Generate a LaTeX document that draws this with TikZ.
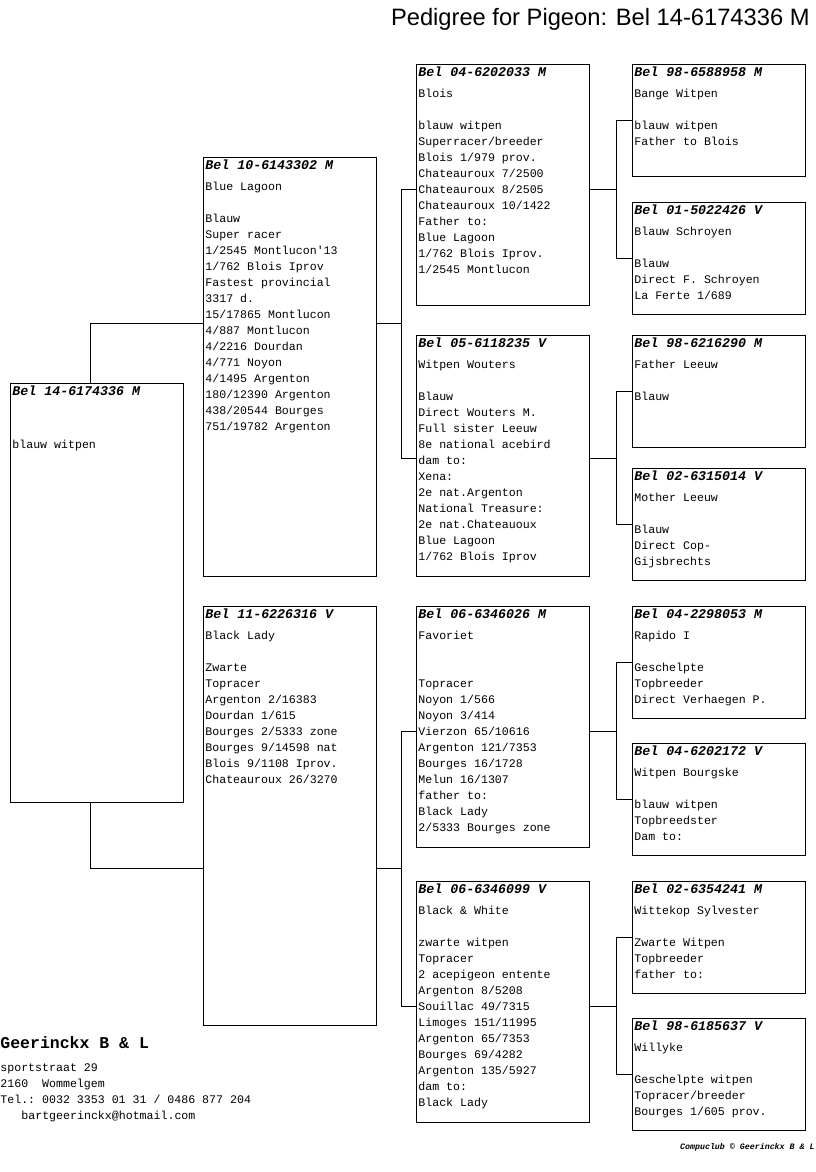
\documentclass[tikz,border=0pt]{standalone}
\usepackage{fontspec}
\setmainfont{Liberation Sans}
\setmonofont{Liberation Mono}
\usetikzlibrary{calc}

% ring number line on top of each card
\newcommand{\ringno}[1]{{\fontsize{13.3}{16}\selectfont\bfseries\itshape #1}\rule{0pt}{12.5pt}}
% card text: height, ring number, lines
\newcommand{\cardtext}[3]{\parbox[t][#1][t]{173pt}{\ttfamily\fontsize{11.6}{16}\selectfont
  \raggedright\leftskip=2pt \ringno{#2}\\[4.5pt]#3}}

\begin{document}
\begin{tikzpicture}[x=1pt, y=-1pt, line width=0.8pt,
  card/.style={draw, inner sep=0pt, anchor=north west},
  small/.style={font=\ttfamily\fontsize{11.6}{16}\selectfont}]
\useasboundingbox (0,0) rectangle (816,1172);

\node[anchor=base east, inner sep=0pt, font=\fontsize{23.7}{28}\selectfont] (title) at (810,26)
  {Pedigree for Pigeon: Bel 14-6174336 M};

% generation 1 and 2
\node[card] (subj) at (10,383) {\cardtext{419pt}{Bel 14-6174336 M}{\mbox{}\\\mbox{}\\blauw witpen}};
\node[card] (sire) at (203,157) {\cardtext{419pt}{Bel 10-6143302 M}{Blue Lagoon\\\mbox{}\\Blauw\\Super racer\\1/2545 Montlucon'13\\1/762 Blois Iprov\\Fastest provincial\\3317 d.\\15/17865 Montlucon\\4/887 Montlucon\\4/2216 Dourdan\\4/771 Noyon\\4/1495 Argenton\\180/12390 Argenton\\438/20544 Bourges\\751/19782 Argenton}};
\node[card] (dam) at (203,606) {\cardtext{419pt}{Bel 11-6226316 V}{Black Lady\\\mbox{}\\Zwarte\\Topracer\\Argenton 2/16383\\Dourdan 1/615\\Bourges 2/5333 zone\\Bourges 9/14598 nat\\Blois 9/1108 Iprov.\\Chateauroux 26/3270}};

% generation 3
\node[card] (blois) at (416,64) {\cardtext{241pt}{Bel 04-6202033 M}{Blois\\\mbox{}\\blauw witpen\\Superracer/breeder\\Blois 1/979 prov.\\Chateauroux 7/2500\\Chateauroux 8/2505\\Chateauroux 10/1422\\Father to:\\Blue Lagoon\\1/762 Blois Iprov.\\1/2545 Montlucon}};
\node[card] (wouters) at (416,335) {\cardtext{241pt}{Bel 05-6118235 V}{Witpen Wouters\\\mbox{}\\Blauw\\Direct Wouters M.\\Full sister Leeuw\\8e national acebird\\dam to:\\Xena:\\2e nat.Argenton\\National Treasure:\\2e nat.Chateauoux\\Blue Lagoon\\1/762 Blois Iprov}};
\node[card] (favoriet) at (416,606) {\cardtext{241pt}{Bel 06-6346026 M}{Favoriet\\\mbox{}\\\mbox{}\\Topracer\\Noyon 1/566\\Noyon 3/414\\Vierzon 65/10616\\Argenton 121/7353\\Bourges 16/1728\\Melun 16/1307\\father to:\\Black Lady\\2/5333 Bourges zone}};
\node[card] (blackwhite) at (416,881) {\cardtext{241pt}{Bel 06-6346099 V}{Black \& White\\\mbox{}\\zwarte witpen\\Topracer\\2 acepigeon entente\\Argenton 8/5208\\Souillac 49/7315\\Limoges 151/11995\\Argenton 65/7353\\Bourges 69/4282\\Argenton 135/5927\\dam to:\\Black Lady}};

% generation 4
\node[card] (bange) at (632,64) {\cardtext{112pt}{Bel 98-6588958 M}{Bange Witpen\\\mbox{}\\blauw witpen\\Father to Blois}};
\node[card] (schroyen) at (632,202) {\cardtext{112pt}{Bel 01-5022426 V}{Blauw Schroyen\\\mbox{}\\Blauw\\Direct F. Schroyen\\La Ferte 1/689}};
\node[card] (fleeuw) at (632,335) {\cardtext{112pt}{Bel 98-6216290 M}{Father Leeuw\\\mbox{}\\Blauw}};
\node[card] (mleeuw) at (632,468) {\cardtext{112pt}{Bel 02-6315014 V}{Mother Leeuw\\\mbox{}\\Blauw\\Direct Cop-\\Gijsbrechts}};
\node[card] (rapido) at (632,606) {\cardtext{112pt}{Bel 04-2298053 M}{Rapido I\\\mbox{}\\Geschelpte\\Topbreeder\\Direct Verhaegen P.}};
\node[card] (bourgske) at (632,743) {\cardtext{112pt}{Bel 04-6202172 V}{Witpen Bourgske\\\mbox{}\\blauw witpen\\Topbreedster\\Dam to:}};
\node[card] (wittekop) at (632,881) {\cardtext{112pt}{Bel 02-6354241 M}{Wittekop Sylvester\\\mbox{}\\Zwarte Witpen\\Topbreeder\\father to:}};
\node[card] (willyke) at (632,1018) {\cardtext{112pt}{Bel 98-6185637 V}{Willyke\\\mbox{}\\Geschelpte witpen\\Topracer/breeder\\Bourges 1/605 prov.}};

% connectors
\foreach \kid/\pa/\ma in {blois/bange/schroyen, wouters/fleeuw/mleeuw,
    favoriet/rapido/bourgske, blackwhite/wittekop/willyke}{
  \path (\pa.west) -- (\ma.west) coordinate[midway] (\kid-t);
  \draw (\pa.west) -| ([xshift=-16pt]\ma.west) -- (\ma.west);
  \draw (\kid.east |- \kid-t) -- ([xshift=-16pt]\kid-t);
  \coordinate (\kid-in) at (\kid.west |- \kid-t);
}
\foreach \kid/\pa/\ma in {sire/blois/wouters, dam/favoriet/blackwhite}{
  \path (\pa-in) -- (\ma-in) coordinate[midway] (\kid-t);
  \draw (\pa-in) -| ([xshift=-15pt]\ma-in) -- (\ma-in);
  \draw (\kid.east |- \kid-t) -- ([xshift=-15pt]\kid-t);
}
\draw ([xshift=-7pt]subj.north) |- (sire.west |- sire-t);
\draw ([xshift=-7pt]subj.south) |- (dam.west |- dam-t);

% breeder
\node[anchor=base west, inner sep=0pt, font=\ttfamily\bfseries\fontsize{16.5}{18}\selectfont] (breeder) at (0,1048) {Geerinckx B \& L};
\node[anchor=base west, inner sep=0pt, small] (address) at (0,1071)
  {\parbox[t]{300pt}{sportstraat 29\\2160\ \ Wommelgem\\Tel.: 0032 3353 01 31 / 0486 877 204\\\hspace*{21pt}bartgeerinckx@hotmail.com}};
\node[anchor=base east, inner sep=0pt, font=\ttfamily\bfseries\itshape\fontsize{8.3}{10}\selectfont] (credit) at (815,1149)
  {Compuclub © Geerinckx B \& L};
\end{tikzpicture}
\end{document}
